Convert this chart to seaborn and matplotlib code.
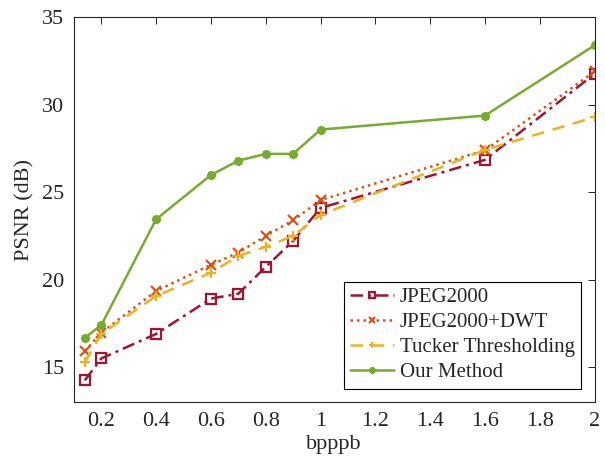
import matplotlib
matplotlib.use("Agg")
import matplotlib.pyplot as plt
import seaborn as sns
import pandas as pd

bpppb = [0.14, 0.2, 0.4, 0.6, 0.7, 0.8, 0.9, 1.0, 1.6, 2.0]
jpeg2000 = [14.25, 15.5, 16.9, 18.92, 19.2, 20.73, 22.22, 24.1, 26.85, 31.77]
jpeg2000_dwt = [15.92, 16.97, 19.35, 20.85, 21.55, 22.5, 23.4, 24.55, 27.4, 31.9]
tucker = [15.29, 16.9, 19.07, 20.4, 21.36, 21.88, 22.5, 23.7, 27.42, 29.29]
our_method = [16.68, 17.4, 23.45, 25.98, 26.8, 27.19, 27.19, 28.58, 29.38, 33.4]

x_ticks = [0.2, 0.4, 0.6, 0.8, 1, 1.2, 1.4, 1.6, 1.8, 2]
x_tick_labels = ["0.2", "0.4", "0.6", "0.8", "1", "1.2", "1.4", "1.6", "1.8", "2"]
y_ticks = [15, 20, 25, 30, 35]

sns.set_style("white")
plt.rcParams['font.family'] = ['Liberation Serif', 'DejaVu Serif']

fig = plt.figure(figsize=(6.05, 4.65), dpi=100)
ax = fig.add_axes([0.122, 0.135, 0.861, 0.828])

series = [
    ("JPEG2000", jpeg2000, "#A2142F", (0, (5, 2, 1.2, 2)), "s", "none"),
    ("JPEG2000+DWT", jpeg2000_dwt, "#D95319", (0, (1, 1.6)), "x", "#D95319"),
    ("Tucker Thresholding", tucker, "#EDB120", (0, (5, 3.5)), "+", "#EDB120"),
    ("Our Method", our_method, "#77AC30", "-", (8, 2, 0), "#77AC30"),
]

for name, vals, color, ls, mk, mfc in series:
    df = pd.DataFrame({"bpppb": bpppb, "PSNR": vals})
    sns.lineplot(data=df, x="bpppb", y="PSNR", ax=ax, label=name, color=color,
                 linestyle=ls, marker=mk, markersize=6.5, markerfacecolor=mfc,
                 markeredgecolor=color, markeredgewidth=1.6, linewidth=1.8)

ax.set_xlim(0.1, 2)
ax.set_ylim(13, 35)
ax.set_xticks(x_ticks)
ax.set_xticklabels(x_tick_labels)
ax.set_yticks(y_ticks)
ax.tick_params(direction="in", top=True, right=True, length=5, width=0.7,
               labelsize=16, colors="#262626", pad=7)
for sp in ax.spines.values():
    sp.set_color("#262626")
    sp.set_linewidth(0.8)
ax.set_xlabel("bpppb", fontsize=16, labelpad=3)
ax.set_ylabel("PSNR (dB)", fontsize=16, labelpad=5)

leg = ax.legend(loc="lower right", fontsize=15, frameon=True, fancybox=False,
                edgecolor="black", framealpha=1, borderaxespad=0.65,
                handlelength=2.1, borderpad=0.3, labelspacing=0.26,
                handletextpad=0.3, markerscale=0.7)
leg.get_frame().set_linewidth(0.8)

fig.savefig("out.png", dpi=100)
